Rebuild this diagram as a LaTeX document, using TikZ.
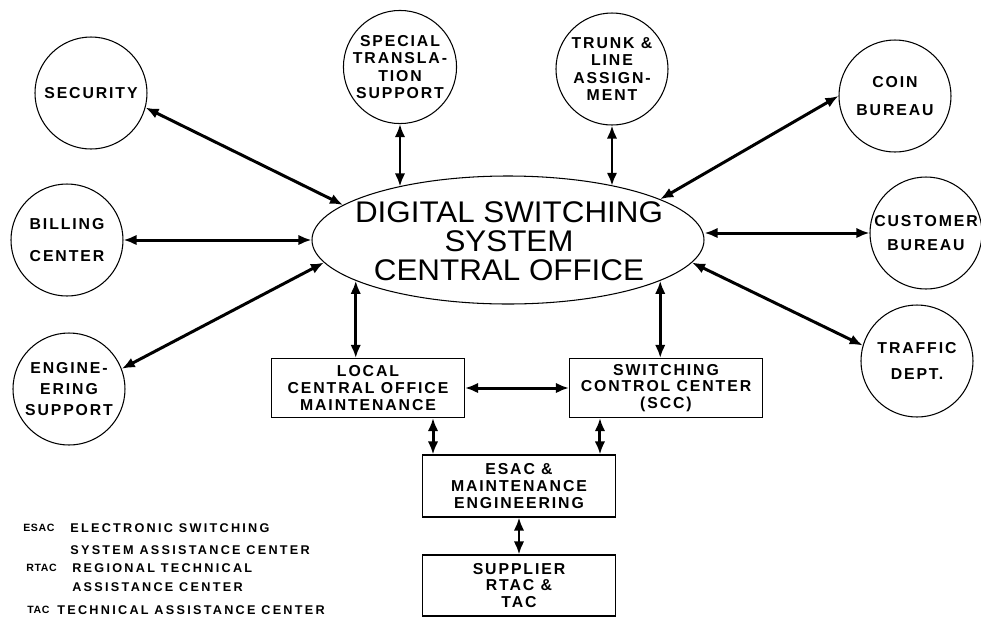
\documentclass[tikz,border=0pt]{standalone}
\usepackage{fontspec}
\usepackage{tikz}
\usetikzlibrary{shapes.geometric, arrows.meta, positioning, calc}
\setmainfont{Liberation Sans}
\newfontfamily\lblfont[LetterSpace=12]{Liberation Sans}
\newfontfamily\keyfont[LetterSpace=18]{Liberation Sans}
\newfontfamily\abbrfont[LetterSpace=6]{Liberation Sans}
\newfontfamily\dssfont[FakeStretch=1.05]{Liberation Sans}
\tikzset{
	hub/.style   ={ellipse, draw=black, line width=0.6pt, minimum width=7.84cm, minimum height=2.56cm, inner sep=0pt},
	hubtext/.style={align=center, inner sep=0pt, font=\dssfont\fontsize{17}{16.5}\selectfont},
	dept/.style  ={circle, draw=black, line width=0.6pt, minimum size=2.24cm, inner sep=0pt, align=center, font=\lblfont\bfseries\fontsize{9}{9.8}\selectfont},
	office/.style={rectangle, draw=black, line width=0.6pt, minimum width=3.86cm, minimum height=1.18cm, inner sep=0pt, align=center, font=\lblfont\bfseries\fontsize{9}{9.6}\selectfont},
	twoway/.style={<->, >={Latex[length=2.6mm, width=2.1mm]}, line width=1.7pt},
	% legend
	keyterm/.style={anchor=west, inner sep=0pt, font=\keyfont\bfseries\fontsize{7.2}{8}\selectfont},
	keyabbr/.style={anchor=west, inner sep=0pt, font=\abbrfont\bfseries\fontsize{6}{7}\selectfont},
}
\begin{document}
\begin{tikzpicture}
	\useasboundingbox (-10.16,4.8) rectangle (9.46,-7.54);
	\node[hub] (dss) at (0,0) {};
	\node[hubtext] (dsslbl) at (0.02,-0.02) {DIGITAL SWITCHING\\SYSTEM\\CENTRAL OFFICE};
	\node[dept] (sec)  at (-8.34,2.94)  {SECURITY};
	\node[dept] (bill) at (-8.82,0)     {BILLING\\[8.5pt]CENTER};
	\node[dept] (eng)  at (-8.78,-2.98) {ENGINE-\\[2pt]ERING\\[2pt]SUPPORT};
	\node[dept] (stl)  at (-2.16,3.46)  {SPECIAL\\TRANSLA-\\TION\\SUPPORT};
	\node[dept] (tla)  at (2.08,3.42)   {TRUNK \&\\LINE\\ASSIGN-\\MENT};
	\node[dept] (coin) at (7.74,2.88)   {COIN\\[6pt]BUREAU};
	\node[dept] (cust) at (8.36,0.14)   {CUSTOMER\\[3.5pt]BUREAU};
	\node[dept] (traf) at (8.18,-2.42)  {TRAFFIC\\[5.5pt]DEPT.};
	\node[office] (lcom) at (-2.80,-2.96) {LOCAL\\CENTRAL OFFICE\\MAINTENANCE};
	\node[office] (scc)  at (3.16,-2.96)  {SWITCHING\\CONTROL CENTER\\(SCC)};
	\node[office, minimum height=1.24cm] (esac) at (0.22,-4.92) {ESAC \&\\MAINTENANCE\\ENGINEERING};
	\node[office, minimum height=1.22cm] (sup)  at (0.22,-6.91) {SUPPLIER\\RTAC \&\\TAC};
	\coordinate (lcdn)  at ([xshift=-0.64cm]lcom.south east);
	\coordinate (sccdn) at ([xshift=0.62cm]scc.south west);
	\draw[twoway] (sec.345) -- (dss.168);
	\draw[twoway] (bill) -- (dss);
	\draw[twoway] (eng.21) -- (dss.187);
	\draw[twoway] (stl.south) -- (stl.south |- dss.154);
	\draw[twoway] (tla.south) -- (tla.south |- dss.27);
	\draw[twoway] (dss.15) -- (coin.west);
	\draw[twoway] (cust.west) -- (cust.west -| dss.east);
	\draw[twoway] (dss.353) -- (traf.164);
	\draw[twoway] (dss.195) -- (dss.195 |- lcom.north);
	\draw[twoway] (dss.345) -- (dss.345 |- scc.north);
	\draw[twoway] (lcom) -- (scc);
	\draw[twoway] (lcdn) -- (lcdn |- esac.north);
	\draw[twoway] (sccdn) -- (sccdn |- esac.north);
	\draw[twoway] (esac) -- (sup);
	\node[keyabbr] (kesac)  at (-9.70,-5.76) {ESAC};
	\node[keyterm] (kesac1) at (-8.76,-5.76) {ELECTRONIC SWITCHING};
	\node[keyterm] (kesac2) at (-8.76,-6.20) {SYSTEM ASSISTANCE CENTER};
	\node[keyabbr] (krtac)  at (-9.64,-6.56) {RTAC};
	\node[keyterm] (krtac1) at (-8.72,-6.56) {REGIONAL TECHNICAL};
	\node[keyterm] (krtac2) at (-8.72,-6.94) {ASSISTANCE CENTER};
	\node[keyabbr] (ktac)   at (-9.62,-7.40) {TAC};
	\node[keyterm] (ktac1)  at (-9.02,-7.40) {TECHNICAL ASSISTANCE CENTER};
\end{tikzpicture}
\end{document}
